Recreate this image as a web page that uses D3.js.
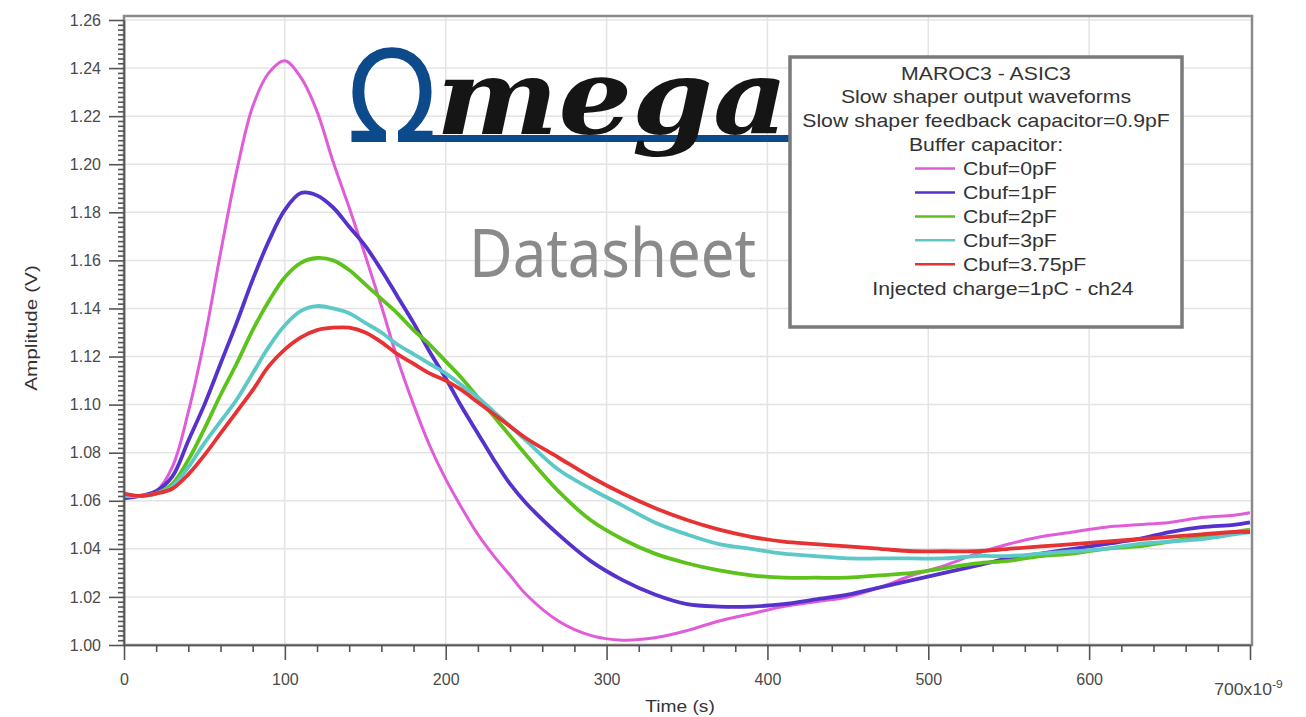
<!DOCTYPE html>
<html>
<head>
<meta charset="utf-8">
<script src="https://cdn.jsdelivr.net/npm/d3@7"></script>
<style>
  body { margin: 0; background: #fff; }
  svg { display: block; font-family: "Liberation Sans", Arial, sans-serif; }
  .grid line { stroke: #e4e4e4; stroke-width: 1.5; }
  .axis path, .axis line { stroke: #555; stroke-width: 1.6; }
  .axis text { fill: #4a4a4a; font-size: 16px; font-family: "Liberation Sans", Arial, sans-serif; }
</style>
</head>
<body>
<div id="chart"></div>
<script>
// time in ns (axis shows x10^-9 s)
const timeNs = [0, 10, 20, 30, 40, 50, 60, 70, 80, 90, 100, 110, 120, 130, 140, 150, 160, 170, 180, 190, 200, 210, 220, 230, 240, 250,
  270, 290, 310, 330, 350, 370, 390, 410, 430, 450, 470, 490, 510, 530, 550, 570, 590, 610, 630, 650, 670, 690, 700];

// amplitude (V), one array per buffer capacitor
const cbuf0 = [1.062, 1.062, 1.064, 1.074, 1.097, 1.127, 1.163, 1.197, 1.224, 1.238, 1.243, 1.236, 1.222, 1.201, 1.182, 1.162, 1.141, 1.119, 1.100, 1.083, 1.069, 1.057, 1.046, 1.037, 1.029, 1.021,
  1.010, 1.004, 1.002, 1.003, 1.006, 1.010, 1.013, 1.016, 1.018, 1.020, 1.024, 1.029, 1.033, 1.038, 1.042, 1.045, 1.047, 1.049, 1.050, 1.051, 1.053, 1.054, 1.055];
const cbuf1 = [1.061, 1.062, 1.064, 1.070, 1.085, 1.100, 1.117, 1.134, 1.152, 1.168, 1.181, 1.188, 1.187, 1.182, 1.174, 1.166, 1.156, 1.145, 1.134, 1.122, 1.111, 1.099, 1.088, 1.077, 1.067, 1.059,
  1.046, 1.035, 1.027, 1.021, 1.017, 1.016, 1.016, 1.017, 1.019, 1.021, 1.024, 1.027, 1.030, 1.033, 1.036, 1.038, 1.040, 1.042, 1.044, 1.047, 1.049, 1.050, 1.051];
const cbuf2 = [1.062, 1.062, 1.063, 1.067, 1.077, 1.090, 1.104, 1.117, 1.131, 1.143, 1.153, 1.159, 1.161, 1.160, 1.156, 1.150, 1.144, 1.138, 1.131, 1.125, 1.118, 1.111, 1.103, 1.095, 1.087, 1.079,
  1.064, 1.052, 1.044, 1.038, 1.034, 1.031, 1.029, 1.028, 1.028, 1.028, 1.029, 1.030, 1.032, 1.034, 1.035, 1.037, 1.038, 1.040, 1.041, 1.043, 1.045, 1.047, 1.048];
const cbuf3 = [1.062, 1.062, 1.063, 1.066, 1.074, 1.084, 1.093, 1.102, 1.113, 1.124, 1.133, 1.139, 1.141, 1.140, 1.138, 1.134, 1.130, 1.125, 1.121, 1.117, 1.113, 1.108, 1.103, 1.097, 1.091, 1.085,
  1.073, 1.065, 1.058, 1.051, 1.046, 1.042, 1.040, 1.038, 1.037, 1.036, 1.036, 1.036, 1.036, 1.037, 1.037, 1.038, 1.039, 1.040, 1.042, 1.043, 1.044, 1.046, 1.047];
const cbuf375 = [1.063, 1.062, 1.063, 1.065, 1.071, 1.079, 1.088, 1.097, 1.106, 1.116, 1.123, 1.128, 1.131, 1.132, 1.132, 1.130, 1.126, 1.121, 1.117, 1.113, 1.110, 1.106, 1.101, 1.096, 1.091, 1.086,
  1.078, 1.070, 1.063, 1.057, 1.052, 1.048, 1.045, 1.043, 1.042, 1.041, 1.040, 1.039, 1.039, 1.039, 1.040, 1.041, 1.042, 1.043, 1.044, 1.045, 1.046, 1.047, 1.047];

const seriesNames = ["Cbuf=0pF", "Cbuf=1pF", "Cbuf=2pF", "Cbuf=3pF", "Cbuf=3.75pF"];
const seriesColors = ["#e05cd9", "#5532cc", "#5ec21c", "#5cc8c8", "#e63232"];
const seriesValues = [cbuf0, cbuf1, cbuf2, cbuf3, cbuf375];

const yTicks = [1.00, 1.02, 1.04, 1.06, 1.08, 1.10, 1.12, 1.14, 1.16, 1.18, 1.20, 1.22, 1.24, 1.26];
const xTicks = [0, 100, 200, 300, 400, 500, 600, 700];
const legendHeader = ["MAROC3 - ASIC3", "Slow shaper output waveforms", "Slow shaper feedback capacitor=0.9pF", "Buffer capacitor:"];
const legendFooter = "Injected charge=1pC - ch24";

const W = 1306, H = 717;
const svg = d3.select("#chart").append("svg")
  .attr("width", W).attr("height", H);

const x = d3.scaleLinear().domain([0, 700]).range([124, 1250]);
const y = d3.scaleLinear().domain([1.00, 1.26]).range([645, 20]);

// grid
const grid = svg.append("g").attr("class", "grid");
grid.selectAll("line.h").data(yTicks.slice(1)).enter().append("line")
  .attr("x1", 124).attr("x2", 1252)
  .attr("y1", d => y(d)).attr("y2", d => y(d));
grid.selectAll("line.v").data(xTicks.slice(1, -1)).enter().append("line")
  .attr("x1", d => x(d)).attr("x2", d => x(d))
  .attr("y1", 16).attr("y2", 645);

// frame
svg.append("rect")
  .attr("x", 124).attr("y", 16).attr("width", 1252 - 124).attr("height", 645 - 16)
  .attr("fill", "none").attr("stroke", "#8a8a8a").attr("stroke-width", 2.5);

// logo watermark
const logo = svg.append("g");
logo.append("text")
  .attr("x", 347).attr("y", 142)
  .attr("font-family", "DejaVu Sans").attr("font-size", 128)
  .attr("textLength", 90).attr("lengthAdjust", "spacingAndGlyphs")
  .attr("fill", "#0c4a8c").text("Ω");
logo.append("rect")
  .attr("x", 400).attr("y", 135).attr("width", 400).attr("height", 7)
  .attr("fill", "#0c4a8c");
logo.append("text")
  .attr("x", 436).attr("y", 134)
  .attr("font-family", "DejaVu Serif").attr("font-style", "italic").attr("font-weight", "bold")
  .attr("font-size", 104)
  .attr("textLength", 352).attr("lengthAdjust", "spacingAndGlyphs")
  .attr("fill", "#151515").text("mega");
logo.append("text")
  .attr("x", 469).attr("y", 277)
  .attr("font-family", "Noto Sans").attr("font-size", 68)
  .attr("textLength", 287).attr("lengthAdjust", "spacingAndGlyphs")
  .attr("fill", "#8a8a8a").text("Datasheet");

// curves
svg.append("clipPath").attr("id", "plotClip")
  .append("rect").attr("x", 124).attr("y", 16).attr("width", 1128).attr("height", 629);

const line = d3.line()
  .x((d, i) => x(timeNs[i]))
  .y(d => y(d))
  .curve(d3.curveCatmullRom.alpha(0.5));

svg.append("g").attr("clip-path", "url(#plotClip)")
  .selectAll("path").data(seriesValues).enter().append("path")
  .attr("d", d => line(d))
  .attr("fill", "none")
  .attr("stroke", (d, i) => seriesColors[i])
  .attr("stroke-width", (d, i) => i === 0 ? 3 : 3.8)
  .attr("stroke-linejoin", "round");

// axes
const yMinor = d3.range(0, 131).map(i => 1 + i * 0.002).filter(v => Math.round(v * 1000) % 20 !== 0);
const xMinor = d3.range(0, 701, 20).filter(v => v % 100 !== 0);

svg.append("g").attr("class", "axis")
  .attr("transform", "translate(124,0)")
  .call(d3.axisLeft(y).tickValues(yMinor).tickSize(6).tickFormat(""))
  .call(g => g.select(".domain").remove());
svg.append("g").attr("class", "axis")
  .attr("transform", "translate(124,0)")
  .call(d3.axisLeft(y).tickValues(yTicks).tickSize(15).tickSizeOuter(0).tickPadding(8).tickFormat(d3.format(".2f")));

svg.append("g").attr("class", "axis")
  .attr("transform", "translate(0,645)")
  .call(d3.axisBottom(x).tickValues(xMinor).tickSize(7).tickFormat(""))
  .call(g => g.select(".domain").remove());
const xAxis = svg.append("g").attr("class", "axis")
  .attr("transform", "translate(0,645)")
  .call(d3.axisBottom(x).tickValues(xTicks).tickSize(15).tickSizeOuter(0).tickPadding(14).tickFormat(d => d === 700 ? "" : d));

// 700x10^-9 label
const last = xAxis.selectAll(".tick").filter(d => d === 700).select("text")
  .attr("transform", "translate(-2,10) scale(1.1,1)");
last.append("tspan").text("700x10");
last.append("tspan").attr("dy", -7).attr("font-size", 11).text("-9");

// axis titles
svg.append("text")
  .attr("transform", "translate(37,328) rotate(-90) scale(1.22,1)")
  .attr("text-anchor", "middle").attr("font-size", 17).attr("fill", "#333")
  .text("Amplitude (V)");
svg.append("text")
  .attr("transform", "translate(680,712) scale(1.13,1)")
  .attr("text-anchor", "middle").attr("font-size", 17).attr("fill", "#333")
  .text("Time (s)");

// legend
const lg = svg.append("g");
lg.append("rect")
  .attr("x", 790).attr("y", 57).attr("width", 392).attr("height", 270)
  .attr("fill", "#fff").attr("stroke", "#7a7a7a").attr("stroke-width", 3.5);

const rowY = i => 73 + i * 23.9;
const sx = 1.18;
legendHeader.forEach((t, i) => {
  lg.append("text")
    .attr("transform", `translate(986,${rowY(i) + 6.5}) scale(${sx},1)`)
    .attr("text-anchor", "middle").attr("font-size", 18).attr("fill", "#333")
    .text(t);
});
seriesNames.forEach((t, i) => {
  const cy = rowY(i + 4);
  lg.append("line")
    .attr("x1", 915).attr("x2", 955).attr("y1", cy).attr("y2", cy)
    .attr("stroke", seriesColors[i]).attr("stroke-width", 2.5);
  lg.append("text")
    .attr("transform", `translate(963,${cy + 6.5}) scale(${sx},1)`)
    .attr("font-size", 18).attr("fill", "#333")
    .text(t);
});
lg.append("text")
  .attr("transform", `translate(1003,${rowY(9) + 6.5}) scale(${sx},1)`)
  .attr("text-anchor", "middle").attr("font-size", 18).attr("fill", "#333")
  .text(legendFooter);
</script>
</body>
</html>
